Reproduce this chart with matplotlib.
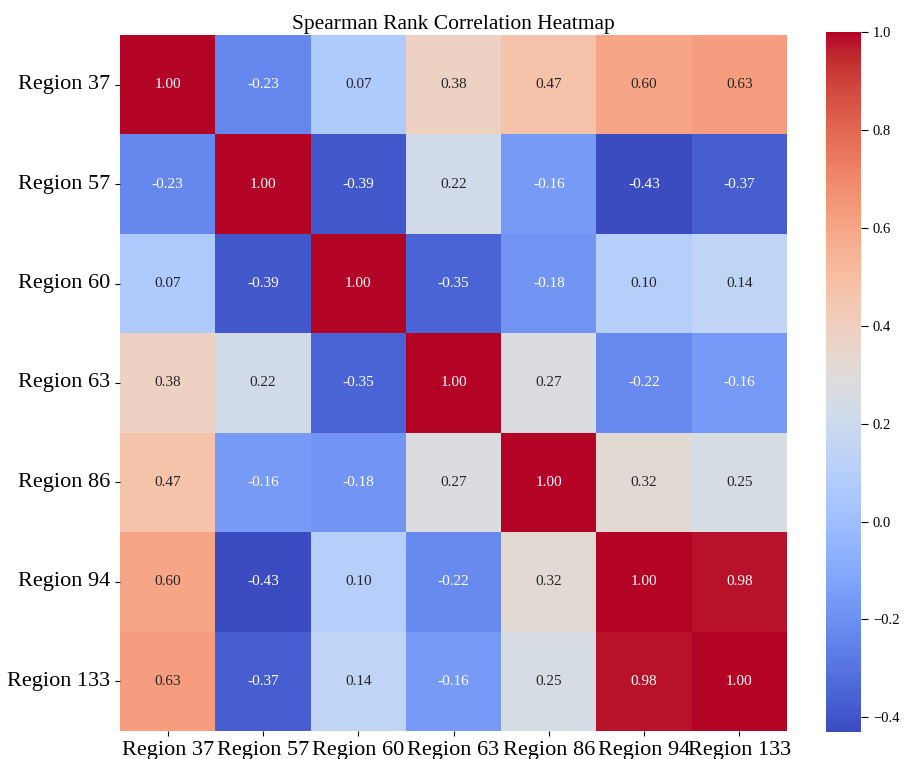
import matplotlib
matplotlib.use("Agg")
import matplotlib.pyplot as plt
import seaborn as sns
import numpy as np
import pandas as pd

plt.rcParams['font.family'] = ['Liberation Serif', 'DejaVu Sans']

regions = ["Region 37", "Region 57", "Region 60", "Region 63", "Region 86", "Region 94", "Region 133"]
row_37 = [1.00, -0.23, 0.07, 0.38, 0.47, 0.60, 0.63]
row_57 = [-0.23, 1.00, -0.39, 0.22, -0.16, -0.43, -0.37]
row_60 = [0.07, -0.39, 1.00, -0.35, -0.18, 0.10, 0.14]
row_63 = [0.38, 0.22, -0.35, 1.00, 0.27, -0.22, -0.16]
row_86 = [0.47, -0.16, -0.18, 0.27, 1.00, 0.32, 0.25]
row_94 = [0.60, -0.43, 0.10, -0.22, 0.32, 1.00, 0.98]
row_133 = [0.63, -0.37, 0.14, -0.16, 0.25, 0.98, 1.00]

corr = pd.DataFrame([row_37, row_57, row_60, row_63, row_86, row_94, row_133],
                    index=regions, columns=regions)

fig = plt.figure(figsize=(9.05, 7.59), dpi=100)
ax = fig.add_axes([120/905, 1 - 731/759, (787-120)/905, (731-35)/759])
cax = fig.add_axes([826/905, 1 - 732/759, (861-826)/905, (732-32)/759])

sns.heatmap(corr, annot=True, fmt=".2f", cmap="coolwarm", ax=ax, cbar_ax=cax,
            annot_kws={"fontsize": 11})
ax.set_title("Spearman Rank Correlation Heatmap", fontsize=15.5, pad=4)
ax.tick_params(axis='x', labelsize=16, rotation=0)
ax.tick_params(axis='y', labelsize=16, rotation=0)
cax.tick_params(labelsize=10.5, length=5)
cax.set_yticks([-0.4, -0.2, 0.0, 0.2, 0.4, 0.6, 0.8, 1.0])

fig.savefig("out.png", dpi=100)
